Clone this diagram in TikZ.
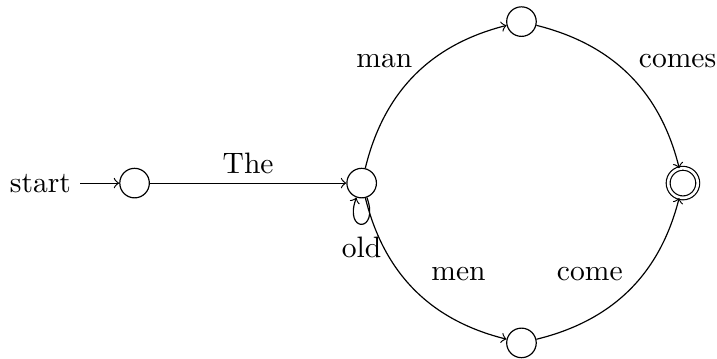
\documentclass[tikz,border=0pt]{standalone}
\usetikzlibrary{arrows.meta}

\begin{document}
\begin{tikzpicture}[
  >=to,
  % plain and accepting states share one size
  state/.style={draw,circle,minimum size=10pt,inner sep=0pt},
  accept/.style={state,double,double distance=0.9pt,minimum size=10pt},
  arr/.style={->},
  lbl/.style={font=\normalsize,inner sep=3pt},
]
\useasboundingbox (0,0) rectangle (8.525,4.257);

% ------------------------------------------------------------------ states
\node[lbl]    (start) at (0.48,2.08) {start};
\node[state]  (q0)    at (1.60,2.08) {};
\node[state]  (q1)    at (4.30,2.08) {};
\node[state]  (q2)    at (6.20,4.00) {};
\node[state]  (q3)    at (6.20,0.18) {};
\node[accept] (q4)    at (8.12,2.08) {};

% ------------------------------------------------------------- transitions
\draw[arr] (start) -- (q0);
\draw[arr] (q0) -- node[lbl,above] {The} (q1);
\draw[arr] (q1) to[bend left=31]  node[lbl,above left,xshift=2.5pt,yshift=-0.7pt]  {man}   (q2);
\draw[arr] (q2) to[bend left=31]  node[lbl,above right,xshift=0pt,yshift=-0.7pt]   {comes} (q4);
\draw[arr] (q1) to[bend right=31] node[lbl,above right,xshift=2.5pt,yshift=0pt]    {men}   (q3);
\draw[arr] (q3) to[bend right=31] node[lbl,above left,xshift=1pt,yshift=0pt]       {come}  (q4);

% self loop under the middle state
\draw[arr] (q1) to[out=-70,in=-110,min distance=4.5mm,looseness=8]
           node[lbl,below,yshift=-1pt] {old} (q1);

\end{tikzpicture}
\end{document}
